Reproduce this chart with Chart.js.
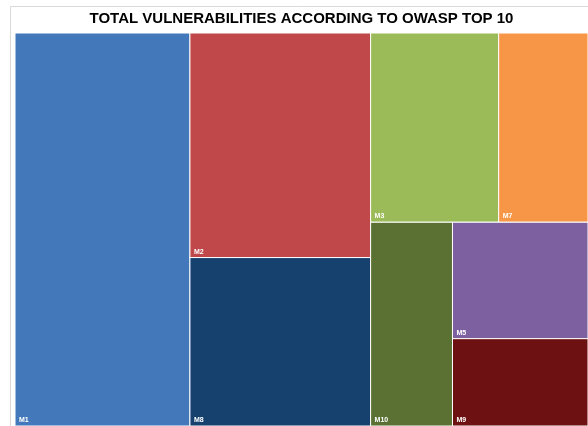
<!DOCTYPE html>
<html>
<head>
<meta charset="utf-8">
<script src="https://cdn.jsdelivr.net/npm/chart.js@4.4.1/dist/chart.umd.min.js"></script>
<style>
  html, body { margin: 0; padding: 0; background: #ffffff; }
  #wrap { width: 588px; height: 426px; position: relative; }
</style>
</head>
<body>
<div id="wrap"><canvas id="c" width="588" height="426"></canvas></div>
<script>
// ---- data ----
const titleText = 'TOTAL VULNERABILITIES ACCORDING TO OWASP TOP 10';
const categories = ['M1', 'M2', 'M8', 'M3', 'M7', 'M10', 'M5', 'M9'];
const values = [61, 36, 27, 21.5, 15, 14.8, 14, 10.5];
const colors = ['#4379BB', '#C0474A', '#16416F', '#9BBB59', '#F79646', '#5A7133', '#7D60A0', '#6E1113'];
// grouping of categories (indices), as the treemap nests them
const grouping = [0, [1, 2], [[3, 4], [5, [6, 7]]]];

// ---- layout helper: split each group along the longer side, proportional to sums ----
function groupSum(g) {
  return Array.isArray(g) ? g.reduce((s, x) => s + groupSum(x), 0) : values[g];
}
function layoutGroup(g, x0, y0, x1, y1, out, aspect) {
  if (!Array.isArray(g)) { out.push({ i: g, x0, y0, x1, y1 }); return; }
  const total = groupSum(g);
  const w = (x1 - x0) * aspect.w, h = (y1 - y0) * aspect.h;
  let pos = 0;
  g.forEach(child => {
    const f = groupSum(child) / total;
    if (w >= h) {
      const a = x0 + (x1 - x0) * pos, b = x0 + (x1 - x0) * (pos + f);
      layoutGroup(child, a, y0, b, y1, out, aspect);
    } else {
      const a = y0 + (y1 - y0) * pos, b = y0 + (y1 - y0) * (pos + f);
      layoutGroup(child, x0, a, x1, b, out, aspect);
    }
    pos += f;
  });
}

const treemapPlugin = {
  id: 'treemap',
  beforeDraw(chart) {
    const ctx = chart.ctx;
    ctx.save();
    ctx.strokeStyle = '#D9D9D9';
    ctx.lineWidth = 1;
    ctx.beginPath();
    ctx.moveTo(10.5, 430);
    ctx.lineTo(10.5, 6.5);
    ctx.lineTo(600, 6.5);
    ctx.stroke();
    ctx.restore();
  },
  afterDatasetsDraw(chart) {
    const xs = chart.scales.x, ys = chart.scales.y;
    const ca = chart.chartArea;
    const rects = [];
    layoutGroup(grouping, 0, 0, 1, 1, rects, { w: ca.right - ca.left, h: ca.bottom - ca.top });
    const ctx = chart.ctx;
    ctx.save();
    rects.forEach(r => {
      const px0 = xs.getPixelForValue(r.x0), px1 = xs.getPixelForValue(r.x1);
      const py0 = ys.getPixelForValue(r.y0), py1 = ys.getPixelForValue(r.y1);
      ctx.fillStyle = colors[r.i];
      ctx.fillRect(px0, py0, px1 - px0, py1 - py0);
      ctx.strokeStyle = '#FFFFFF';
      ctx.lineWidth = 1;
      ctx.strokeRect(px0, py0, px1 - px0, py1 - py0);
    });
    ctx.fillStyle = '#FFFFFF';
    ctx.font = 'bold 7px "Liberation Sans", Arial, sans-serif';
    ctx.textAlign = 'left';
    ctx.textBaseline = 'alphabetic';
    rects.forEach(r => {
      const px0 = xs.getPixelForValue(r.x0);
      const py1 = ys.getPixelForValue(r.y1);
      ctx.fillText(categories[r.i], px0 + 4, py1 - 4);
    });
    ctx.restore();
  }
};

new Chart(document.getElementById('c'), {
  type: 'scatter',
  data: { datasets: [{ label: 'treemap', data: categories.map(() => ({ x: 0, y: 0 })), pointRadius: 0, pointHoverRadius: 0 }] },
  options: {
    responsive: false,
    animation: false,
    events: [],
    layout: { padding: { left: 15, right: 0, top: 0, bottom: 0 } },
    scales: {
      x: { type: 'linear', min: 0, max: 1, display: false },
      y: { type: 'linear', min: 0, max: 1, reverse: true, display: false }
    },
    plugins: {
      legend: { display: false },
      tooltip: { enabled: false },
      title: {
        display: true,
        text: titleText,
        color: '#000000',
        font: { family: '"Liberation Sans", Arial, sans-serif', size: 15, weight: 'bold', lineHeight: 1.2 },
        padding: { top: 10, bottom: 5 }
      }
    }
  },
  plugins: [treemapPlugin]
});
</script>
</body>
</html>
